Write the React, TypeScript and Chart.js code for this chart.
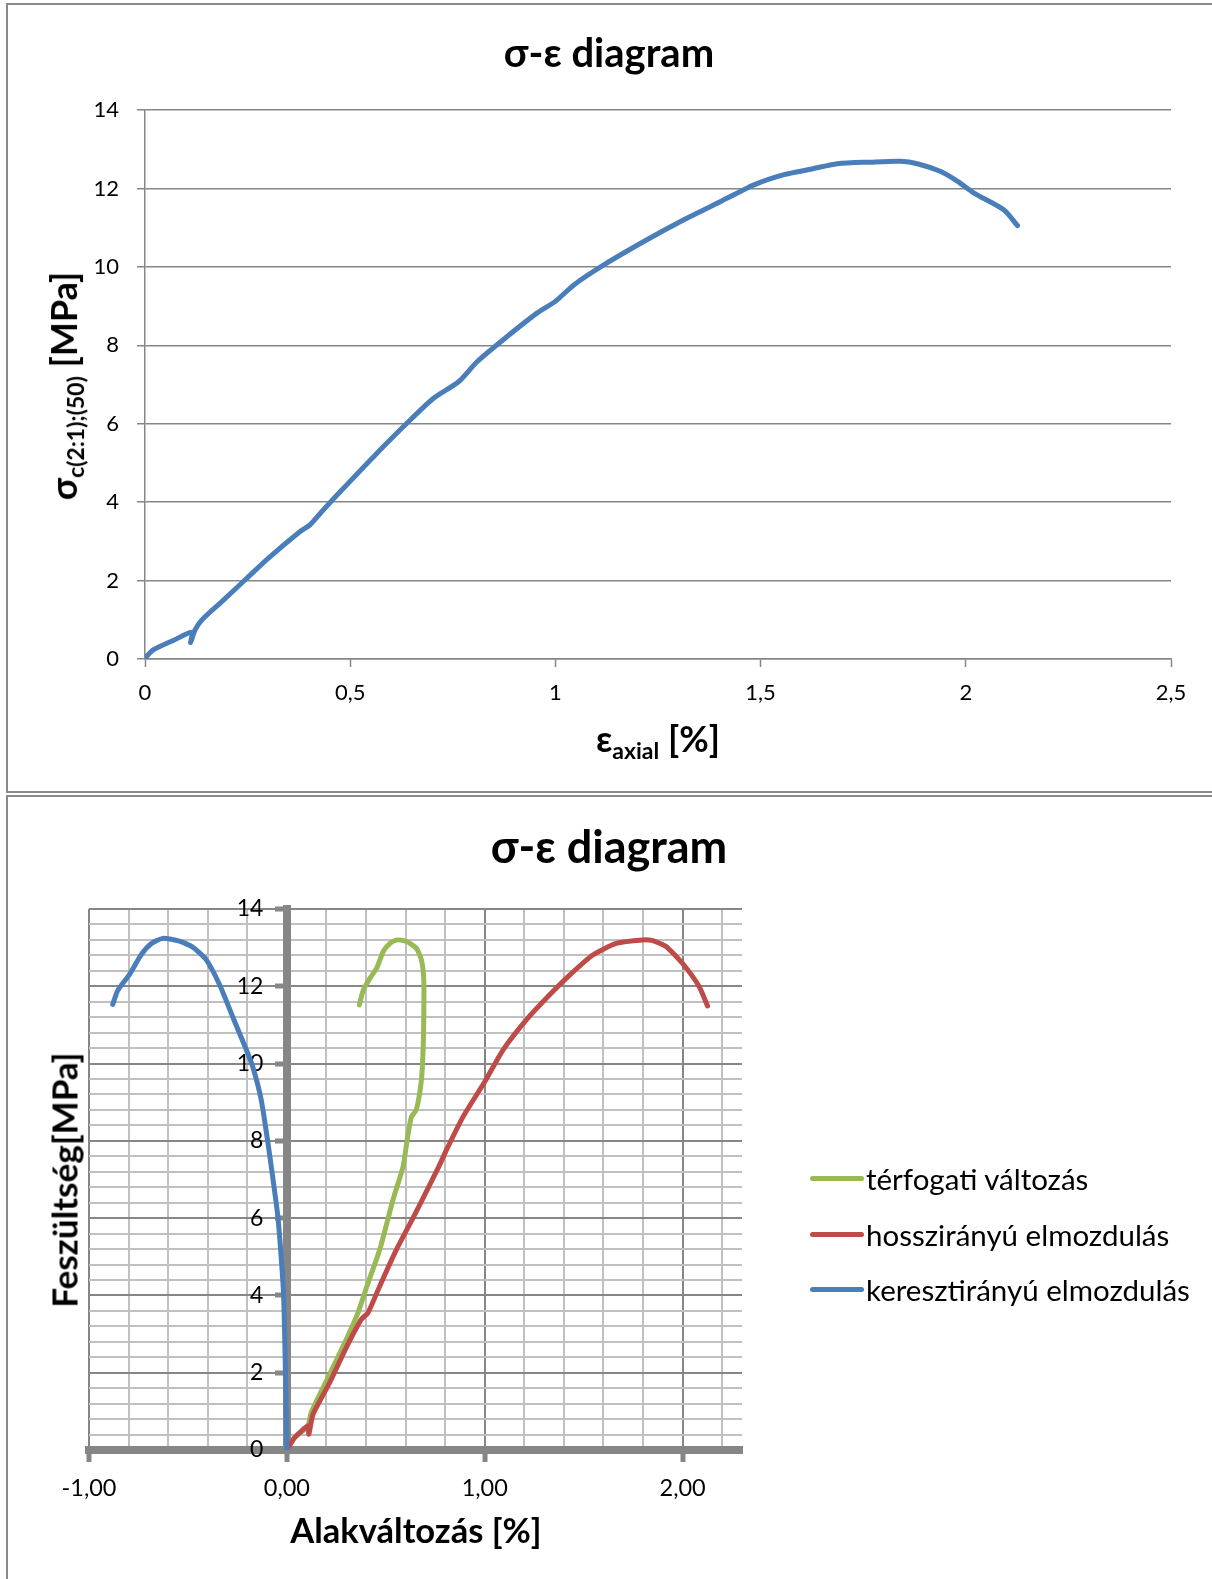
import React, { useEffect, useRef } from 'react';
import { Chart, registerables } from 'chart.js';

Chart.register(...registerables);

const FONT = 'Lato, "Open Sans", "DejaVu Sans", sans-serif';
const BLUE = '#4A7EBB';
const RED = '#BE4B48';
const GREEN = '#98B954';
const AXIS = '#868686';
const MINOR = '#c0c0c0';

// ---------- Top chart: σ-ε diagram (axial) ----------
const axialStrain = [0, 0.02, 0.07, 0.114, 0.111, 0.122, 0.138, 0.191, 0.248, 0.305, 0.378, 0.402, 0.431, 0.476, 0.557, 0.638, 0.703, 0.764, 0.809, 0.882, 0.955, 1.0, 1.045, 1.118, 1.223, 1.313, 1.394, 1.484, 1.557, 1.622, 1.687, 1.768, 1.841, 1.882, 1.939, 1.98, 2.02, 2.093, 2.126];
const axialStress = [0.02, 0.23, 0.48, 0.68, 0.42, 0.74, 0.99, 1.5, 2.06, 2.61, 3.25, 3.42, 3.76, 4.27, 5.16, 6.01, 6.65, 7.07, 7.58, 8.22, 8.82, 9.12, 9.54, 10.05, 10.69, 11.2, 11.62, 12.09, 12.35, 12.49, 12.63, 12.67, 12.69, 12.63, 12.43, 12.18, 11.88, 11.45, 11.05];
const topXTicks = [0, 0.5, 1, 1.5, 2, 2.5];
const topYTicks = [0, 2, 4, 6, 8, 10, 12, 14];

// ---------- Bottom chart: three strain curves ----------
const volStrain = [0, 0.039, 0.106, 0.123, 0.216, 0.3, 0.359, 0.41, 0.469, 0.536, 0.587, 0.61, 0.629, 0.654, 0.68, 0.689, 0.692, 0.692, 0.68, 0.655, 0.605, 0.555, 0.521, 0.487, 0.454, 0.42, 0.387, 0.366];
const volStress = [0, 0.32, 0.62, 0.97, 1.96, 2.86, 3.55, 4.32, 5.18, 6.47, 7.33, 8.1, 8.62, 8.8, 9.58, 10.44, 11.3, 12.16, 12.68, 12.98, 13.16, 13.2, 13.11, 12.9, 12.47, 12.21, 11.91, 11.52];

const longStrain = [0, 0.039, 0.106, 0.111, 0.132, 0.216, 0.3, 0.376, 0.41, 0.469, 0.553, 0.637, 0.713, 0.772, 0.806, 0.89, 1.0, 1.092, 1.21, 1.328, 1.429, 1.546, 1.664, 1.798, 1.849, 1.916, 2.0, 2.084, 2.126];
const longStress = [0, 0.32, 0.62, 0.41, 0.92, 1.74, 2.65, 3.38, 3.55, 4.24, 5.18, 6.0, 6.77, 7.38, 7.76, 8.62, 9.53, 10.35, 11.13, 11.78, 12.29, 12.81, 13.11, 13.2, 13.18, 13.03, 12.59, 11.99, 11.49];

const transStrain = [0, -0.003, -0.007, -0.012, -0.017, -0.029, -0.045, -0.071, -0.096, -0.13, -0.172, -0.206, -0.273, -0.34, -0.408, -0.475, -0.543, -0.627, -0.686, -0.736, -0.795, -0.854, -0.88];
const transStress = [0, 0.93, 1.94, 3.15, 4.07, 5.0, 6.02, 7.04, 7.96, 9.07, 9.91, 10.37, 11.2, 12.04, 12.69, 13.01, 13.17, 13.24, 13.1, 12.82, 12.31, 11.9, 11.53];

const legendLabels = ['térfogati változás', 'hosszirányú elmozdulás', 'keresztirányú elmozdulás'];

const pts = (xs: number[], ys: number[]) => xs.map((x, i) => ({ x, y: ys[i] }));
const near = (v: number, step: number) => Math.abs(v / step - Math.round(v / step)) < 1e-6;

function TopChart() {
  const ref = useRef<HTMLCanvasElement>(null);
  useEffect(() => {
    const chart = new Chart(ref.current!, {
      type: 'scatter',
      data: {
        datasets: [
          {
            data: pts(axialStrain, axialStress),
            showLine: true,
            borderColor: BLUE,
            backgroundColor: BLUE,
            borderWidth: 5,
            pointRadius: 0,
            tension: 0.25,
            borderCapStyle: 'round',
            borderJoinStyle: 'round',
          },
        ],
      },
      options: {
        animation: false,
        responsive: false,
        layout: { padding: { left: 85, right: 41, top: 110, bottom: 76 } },
        plugins: { legend: { display: false }, tooltip: { enabled: false }, title: { display: false } },
        scales: {
          x: {
            type: 'linear',
            min: 0,
            max: 2.5,
            afterBuildTicks: (s: any) => { s.ticks = topXTicks.map((v) => ({ value: v })); },
            afterFit: (s: any) => { s.height = 60; },
            ticks: {
              color: '#000',
              padding: 13,
              font: { family: FONT, size: 22 },
              maxRotation: 0,
              callback: (v: any) => String(v).replace('.', ','),
            },
            grid: { drawOnChartArea: false, drawTicks: true, tickLength: 8, tickColor: AXIS, tickWidth: 1.5 },
            border: { color: AXIS, width: 1.5 },
          },
          y: {
            type: 'linear',
            min: 0,
            max: 14,
            afterBuildTicks: (s: any) => { s.ticks = topYTicks.map((v) => ({ value: v })); },
            afterFit: (s: any) => { s.width = 60; },
            ticks: {
              color: '#000',
              padding: 18,
              font: { family: FONT, size: 22 },
              callback: (v: any) => String(v),
            },
            grid: { color: AXIS, lineWidth: 1.5, tickLength: 8, tickColor: AXIS, tickWidth: 1.5 },
            border: { color: AXIS, width: 1.5 },
          },
        },
      },
    } as any);
    return () => chart.destroy();
  }, []);
  return <canvas ref={ref} width={1212} height={795} style={{ position: 'absolute', left: 0, top: 0, display: 'block' }} />;
}

function BottomChart() {
  const ref = useRef<HTMLCanvasElement>(null);
  useEffect(() => {
    const line = (data: any, color: string) => ({
      data,
      showLine: true,
      borderColor: color,
      backgroundColor: color,
      borderWidth: 5,
      pointRadius: 0,
      tension: 0.2,
      borderCapStyle: 'round',
      borderJoinStyle: 'round',
    });
    const chart = new Chart(ref.current!, {
      type: 'scatter',
      data: {
        datasets: [
          { label: legendLabels[2], ...line(pts(transStrain, transStress), BLUE) },
          { label: legendLabels[1], ...line(pts(longStrain, longStress), RED) },
          { label: legendLabels[0], ...line(pts(volStrain, volStress), GREEN) },
        ],
      },
      options: {
        animation: false,
        responsive: false,
        layout: { padding: { left: 89, right: 470, top: 113, bottom: 129 } },
        plugins: { legend: { display: false }, tooltip: { enabled: false }, title: { display: false } },
        scales: {
          x: {
            type: 'linear',
            position: { y: 0 },
            min: -1,
            max: 2.3,
            ticks: {
              stepSize: 0.2,
              includeBounds: false,
              autoSkip: false,
              maxRotation: 0,
              color: '#000',
              padding: 16,
              font: { family: FONT, size: 23.5 },
              callback: (v: any) => (near(v, 1) ? Number(v).toFixed(2).replace('.', ',') : ''),
            },
            grid: {
              color: (c: any) => (c.tick && near(c.tick.value, 1) ? AXIS : MINOR),
              lineWidth: 2,
              tickColor: (c: any) => (c.tick && near(c.tick.value, 1) ? AXIS : 'rgba(0,0,0,0)'),
              tickLength: 8,
              tickWidth: 5,
            },
            border: { color: AXIS, width: 8 },
          },
          y: {
            type: 'linear',
            position: { x: 0 },
            min: 0,
            max: 14,
            ticks: {
              stepSize: 0.4,
              includeBounds: false,
              autoSkip: false,
              color: '#000',
              padding: 16,
              font: { family: FONT, size: 23 },
              // trailing spaces keep the right-aligned label clear of the thick axis line
              callback: (v: any) => (near(v, 2) ? String(Math.round(v)) + '    ' : ''),
            },
            grid: {
              color: (c: any) => (c.tick && near(c.tick.value, 2) ? AXIS : MINOR),
              lineWidth: 2,
              tickColor: (c: any) => (c.tick && near(c.tick.value, 2) ? AXIS : 'rgba(0,0,0,0)'),
              tickLength: 8,
              tickWidth: 5,
            },
            border: { color: AXIS, width: 8 },
          },
        },
      },
    } as any);
    return () => chart.destroy();
  }, []);
  return <canvas ref={ref} width={1212} height={783} style={{ position: 'absolute', left: 0, top: 796, display: 'block' }} />;
}

const abs = (left: number, top: number, extra: React.CSSProperties = {}): React.CSSProperties => ({
  position: 'absolute',
  left,
  top,
  transform: 'translate(-50%, -50%)',
  whiteSpace: 'nowrap',
  fontFamily: FONT,
  color: '#000',
  lineHeight: 1,
  ...extra,
});

export default function App() {
  const legendColors = [GREEN, RED, BLUE];
  const legendY = [1178, 1234, 1289];
  return (
    <div style={{ position: 'absolute', left: 0, top: 0, width: 1212, height: 1579, background: '#fff', overflow: 'hidden' }}>
      <div style={{ position: 'absolute', left: 6, top: 3, width: 1300, height: 790, border: '2px solid #8a8a8a', boxSizing: 'border-box' }} />
      <div style={{ position: 'absolute', left: 6, top: 795, width: 1300, height: 900, border: '2px solid #8a8a8a', boxSizing: 'border-box' }} />
      <TopChart />
      <BottomChart />

      <div style={abs(609, 52, { fontSize: 40, fontWeight: 700 })}>σ-ε diagram</div>
      <div style={abs(658, 741, { fontSize: 36, fontWeight: 700 })}>
        ε<sub style={{ fontSize: 23, verticalAlign: '-0.3em' }}>axial</sub> [%]
      </div>
      <div style={abs(66, 386, { fontSize: 36, fontWeight: 700, transform: 'translate(-50%, -50%) rotate(-90deg)' })}>
        σ<sub style={{ fontSize: 23, verticalAlign: '-0.3em' }}>c(2:1);(50)</sub> [MPa]
      </div>

      <div style={abs(609, 846, { fontSize: 45, fontWeight: 700 })}>σ-ε diagram</div>
      <div style={abs(416, 1530, { fontSize: 34.5, fontWeight: 700 })}>Alakváltozás [%]</div>
      <div style={abs(64, 1180, { fontSize: 35, fontWeight: 700, transform: 'translate(-50%, -50%) rotate(-90deg)' })}>Feszültség[MPa]</div>

      {legendLabels.map((label, i) => (
        <div key={label} style={{ position: 'absolute', left: 810, top: legendY[i] - 18, height: 36, display: 'flex', alignItems: 'center', fontFamily: FONT, fontSize: 29.5, whiteSpace: 'nowrap' }}>
          <span style={{ display: 'inline-block', width: 54, height: 5, borderRadius: 3, background: legendColors[i], marginRight: 2 }} />
          <span>{label}</span>
        </div>
      ))}
    </div>
  );
}
